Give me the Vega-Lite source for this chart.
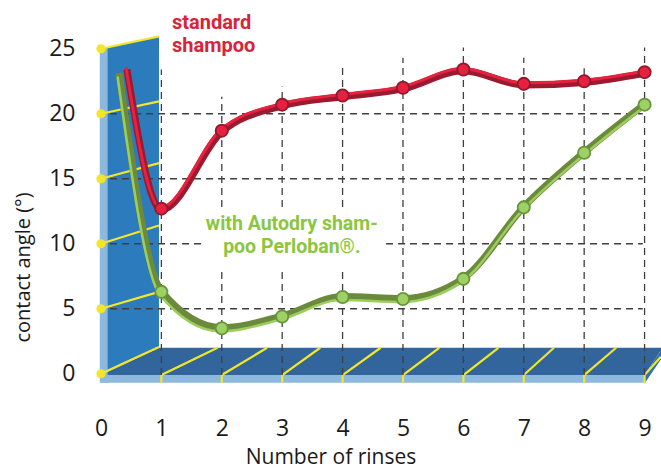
{
  "$schema": "https://vega.github.io/schema/vega-lite/v6.json",
  "width": 661,
  "height": 471,
  "autosize": "none",
  "padding": 0,
  "background": "white",
  "config": {"view": {"stroke": null}, "font": "Open Sans"},
  "datasets": {
    "series": [
      {"series": "standard", "rinses": 0.43, "angle": 23.5, "marker": 0},
      {"series": "standard", "rinses": 1, "angle": 12.7, "marker": 1},
      {"series": "standard", "rinses": 2, "angle": 18.7, "marker": 1},
      {"series": "standard", "rinses": 3, "angle": 20.7, "marker": 1},
      {"series": "standard", "rinses": 4, "angle": 21.4, "marker": 1},
      {"series": "standard", "rinses": 5, "angle": 22.0, "marker": 1},
      {"series": "standard", "rinses": 6, "angle": 23.4, "marker": 1},
      {"series": "standard", "rinses": 7, "angle": 22.3, "marker": 1},
      {"series": "standard", "rinses": 8, "angle": 22.5, "marker": 1},
      {"series": "standard", "rinses": 9, "angle": 23.2, "marker": 1},
      {"series": "autodry", "rinses": 0.3, "angle": 23.1, "marker": 0},
      {"series": "autodry", "rinses": 1, "angle": 6.3, "marker": 1},
      {"series": "autodry", "rinses": 2, "angle": 3.5, "marker": 1},
      {"series": "autodry", "rinses": 3, "angle": 4.4, "marker": 1},
      {"series": "autodry", "rinses": 4, "angle": 5.9, "marker": 1},
      {"series": "autodry", "rinses": 5, "angle": 5.75, "marker": 1},
      {"series": "autodry", "rinses": 6, "angle": 7.3, "marker": 1},
      {"series": "autodry", "rinses": 7, "angle": 12.8, "marker": 1},
      {"series": "autodry", "rinses": 8, "angle": 17.0, "marker": 1},
      {"series": "autodry", "rinses": 9, "angle": 20.7, "marker": 1}
    ],
    "labels": [
      {"label": "standard\nshampoo", "series": "standard", "rinses": 1.175, "angle": 26.5},
      {"label": "with Autodry sham-\npoo Perloban®.", "series": "autodry", "rinses": 3.16, "angle": 11.06}
    ],
    "labelBox": [
      {"rinses": 1.72, "rinses2": 4.72, "angle": 12.6, "angle2": 8.0}
    ],
    "wall": [
      {"rinses": 0, "angle": 25, "angle2": -0.1},
      {"rinses": 0.96, "angle": 25.95, "angle2": 2.06}
    ],
    "floor": [
      {"angle": 2.0, "rinses": 0.96, "rinses2": 9.3},
      {"angle": -0.1, "rinses": 0, "rinses2": 9.0}
    ],
    "floorSide": [
      {"rinses": 9.0, "angle": -0.1, "angle2": -0.75},
      {"rinses": 9.3, "angle": 2.0, "angle2": 1.3}
    ],
    "strips": [
      {"rinses": -0.02, "rinses2": 0.11, "angle": -0.7, "angle2": 25.05},
      {"rinses": 0, "rinses2": 9.0, "angle": -0.1, "angle2": -0.7}
    ],
    "yellowLines": [
      {"rinses": 0, "angle": 25, "rinses2": 0.96, "angle2": 25.95},
      {"rinses": 0, "angle": 20, "rinses2": 0.96, "angle2": 20.95},
      {"rinses": 0, "angle": 15, "rinses2": 0.96, "angle2": 16.2},
      {"rinses": 0, "angle": 10, "rinses2": 0.96, "angle2": 11.4},
      {"rinses": 0, "angle": 5, "rinses2": 0.96, "angle2": 6.3},
      {"rinses": 0, "angle": 0, "rinses2": 0.96, "angle2": 2.06},
      {"rinses": 1, "angle": -0.1, "rinses2": 1.93, "angle2": 2.0},
      {"rinses": 2, "angle": -0.1, "rinses2": 2.75, "angle2": 2.0},
      {"rinses": 3, "angle": -0.1, "rinses2": 3.63, "angle2": 2.0},
      {"rinses": 4, "angle": -0.1, "rinses2": 4.63, "angle2": 2.0},
      {"rinses": 5, "angle": -0.1, "rinses2": 5.6, "angle2": 2.0},
      {"rinses": 6, "angle": -0.1, "rinses2": 6.58, "angle2": 2.0},
      {"rinses": 7, "angle": -0.1, "rinses2": 7.5, "angle2": 2.0},
      {"rinses": 8, "angle": -0.1, "rinses2": 8.53, "angle2": 2.0},
      {"rinses": 9, "angle": -0.1, "rinses2": 9.27, "angle2": 1.3},
      {"rinses": 1, "angle": -0.1, "rinses2": 1, "angle2": -0.7},
      {"rinses": 2, "angle": -0.1, "rinses2": 2, "angle2": -0.7},
      {"rinses": 3, "angle": -0.1, "rinses2": 3, "angle2": -0.7},
      {"rinses": 4, "angle": -0.1, "rinses2": 4, "angle2": -0.7},
      {"rinses": 5, "angle": -0.1, "rinses2": 5, "angle2": -0.7},
      {"rinses": 6, "angle": -0.1, "rinses2": 6, "angle2": -0.7},
      {"rinses": 7, "angle": -0.1, "rinses2": 7, "angle2": -0.7},
      {"rinses": 8, "angle": -0.1, "rinses2": 8, "angle2": -0.7},
      {"rinses": 9, "angle": -0.1, "rinses2": 9, "angle2": -0.75}
    ],
    "grid": [
      {"rinses": 0.15, "angle": 5, "rinses2": 8.97, "angle2": 5},
      {"rinses": 0.15, "angle": 10, "rinses2": 8.97, "angle2": 10},
      {"rinses": 0.15, "angle": 15, "rinses2": 8.97, "angle2": 15},
      {"rinses": 0.15, "angle": 20, "rinses2": 8.97, "angle2": 20},
      {"rinses": 1, "angle": -0.1, "rinses2": 1, "angle2": 23.4},
      {"rinses": 2, "angle": -0.1, "rinses2": 2, "angle2": 21.3},
      {"rinses": 3, "angle": -0.1, "rinses2": 3, "angle2": 22.1},
      {"rinses": 4, "angle": -0.1, "rinses2": 4, "angle2": 23.9},
      {"rinses": 5, "angle": -0.1, "rinses2": 5, "angle2": 24.3},
      {"rinses": 6, "angle": -0.1, "rinses2": 6, "angle2": 25.1},
      {"rinses": 7, "angle": -0.1, "rinses2": 7, "angle2": 24.3},
      {"rinses": 8, "angle": -0.1, "rinses2": 8, "angle2": 23.5},
      {"rinses": 9, "angle": -0.1, "rinses2": 9, "angle2": 25.1}
    ],
    "dots": [
      {"rinses": 0, "angle": 0},
      {"rinses": 0, "angle": 5},
      {"rinses": 0, "angle": 10},
      {"rinses": 0, "angle": 15},
      {"rinses": 0, "angle": 20},
      {"rinses": 0, "angle": 25}
    ]
  },
  "encoding": {
    "x": {
      "field": "rinses",
      "type": "quantitative",
      "scale": {"domain": [-1.672, 9.272], "nice": false, "zero": false},
      "axis": {
        "title": "Number of rinses",
        "values": [0, 1, 2, 3, 4, 5, 6, 7, 8, 9],
        "domain": false,
        "ticks": false,
        "tickSize": 0,
        "grid": false,
        "offset": -50,
        "labelPadding": 7,
        "labelBaseline": "middle",
        "labelFontSize": 23,
        "labelColor": "#1a1a1a",
        "labelFont": "Open Sans",
        "titleFont": "Open Sans",
        "titleFontSize": 21,
        "titleFontWeight": "normal",
        "titleColor": "#1a1a1a",
        "titleY": 42,
        "titleBaseline": "alphabetic"
      }
    },
    "y": {
      "field": "angle",
      "type": "quantitative",
      "scale": {"domain": [-7.48, 28.75], "nice": false, "zero": false},
      "axis": {
        "title": "contact angle (°)",
        "values": [0, 5, 10, 15, 20, 25],
        "domain": false,
        "ticks": false,
        "tickSize": 0,
        "grid": false,
        "offset": -80,
        "labelPadding": 5,
        "labelBaseline": "middle",
        "labelFontSize": 23,
        "labelColor": "#1a1a1a",
        "labelFont": "Open Sans",
        "titleFont": "Open Sans",
        "titleFontSize": 20,
        "titleFontWeight": "normal",
        "titleColor": "#1a1a1a",
        "titleX": -57,
        "titleY": 267,
        "titleAngle": 270,
        "titleAlign": "center",
        "titleBaseline": "middle"
      }
    }
  },
  "layer": [
    {
      "data": {"name": "wall"},
      "mark": {"type": "area", "color": "#2b7bbd", "opacity": 1},
      "encoding": {"y2": {"field": "angle2"}}
    },
    {
      "data": {"name": "floor"},
      "mark": {"type": "area", "orient": "horizontal", "color": "#32659b", "opacity": 1},
      "encoding": {"x2": {"field": "rinses2"}}
    },
    {
      "data": {"name": "floorSide"},
      "mark": {"type": "area", "color": "#2a72b2", "opacity": 1},
      "encoding": {"y2": {"field": "angle2"}}
    },
    {
      "data": {"name": "strips"},
      "mark": {"type": "rect", "color": "#8cb9dd"},
      "encoding": {"x2": {"field": "rinses2"}, "y2": {"field": "angle2"}}
    },
    {
      "data": {"name": "yellowLines"},
      "mark": {"type": "rule", "color": "#f2e62a", "strokeWidth": 2.2},
      "encoding": {"x2": {"field": "rinses2"}, "y2": {"field": "angle2"}}
    },
    {
      "data": {"name": "grid"},
      "mark": {"type": "rule", "color": "#3f3f3f", "strokeWidth": 1.3, "strokeDash": [7, 5]},
      "encoding": {"x2": {"field": "rinses2"}, "y2": {"field": "angle2"}}
    },
    {
      "data": {"name": "labelBox"},
      "mark": {"type": "rect", "color": "white", "opacity": 1},
      "encoding": {"x2": {"field": "rinses2"}, "y2": {"field": "angle2"}}
    },
    {
      "data": {"name": "series"},
      "transform": [{"filter": "datum.series === 'autodry'"}],
      "mark": {"type": "line", "interpolate": "monotone", "color": "#6c8a3b", "strokeWidth": 7, "yOffset": -0.5, "strokeCap": "butt"}
    },
    {
      "data": {"name": "series"},
      "transform": [{"filter": "datum.series === 'autodry'"}],
      "mark": {"type": "line", "interpolate": "monotone", "color": "#9ccd5f", "strokeWidth": 2.5, "xOffset": -1.5, "yOffset": 3, "strokeCap": "butt"}
    },
    {
      "data": {"name": "series"},
      "transform": [{"filter": "datum.series === 'standard'"}],
      "mark": {"type": "line", "interpolate": "monotone", "color": "#9c1a31", "strokeWidth": 7, "yOffset": 1.2, "strokeCap": "butt"}
    },
    {
      "data": {"name": "series"},
      "transform": [{"filter": "datum.series === 'standard'"}],
      "mark": {"type": "line", "interpolate": "monotone", "color": "#e6223f", "strokeWidth": 3, "xOffset": -1, "yOffset": -1, "strokeCap": "butt"}
    },
    {
      "data": {"name": "series"},
      "transform": [{"filter": "datum.series === 'autodry' && datum.marker === 1"}],
      "mark": {"type": "point", "shape": "circle", "filled": true, "size": 150, "color": "#9fd066", "stroke": "#66963a", "strokeWidth": 1.8, "opacity": 1}
    },
    {
      "data": {"name": "series"},
      "transform": [{"filter": "datum.series === 'standard' && datum.marker === 1"}],
      "mark": {"type": "point", "shape": "circle", "filled": true, "size": 150, "color": "#e8203f", "stroke": "#8e1a2c", "strokeWidth": 1.8, "opacity": 1}
    },
    {
      "data": {"name": "dots"},
      "mark": {"type": "point", "shape": "circle", "filled": true, "size": 85, "color": "#f2e62a", "opacity": 1}
    },
    {
      "data": {"name": "labels"},
      "transform": [{"filter": "datum.series === 'standard'"}],
      "mark": {"type": "text", "align": "left", "baseline": "alphabetic", "lineBreak": "\n", "lineHeight": 23, "font": "Liberation Sans Narrow, Roboto, sans-serif", "fontWeight": "bold", "fontSize": 20, "color": "#d9233a"},
      "encoding": {"text": {"field": "label"}}
    },
    {
      "data": {"name": "labels"},
      "transform": [{"filter": "datum.series === 'autodry'"}],
      "mark": {"type": "text", "align": "center", "baseline": "alphabetic", "lineBreak": "\n", "lineHeight": 23, "font": "Liberation Sans Narrow, Roboto, sans-serif", "fontWeight": "bold", "fontSize": 19.5, "color": "#8cc63f"},
      "encoding": {"text": {"field": "label"}}
    }
  ]
}
